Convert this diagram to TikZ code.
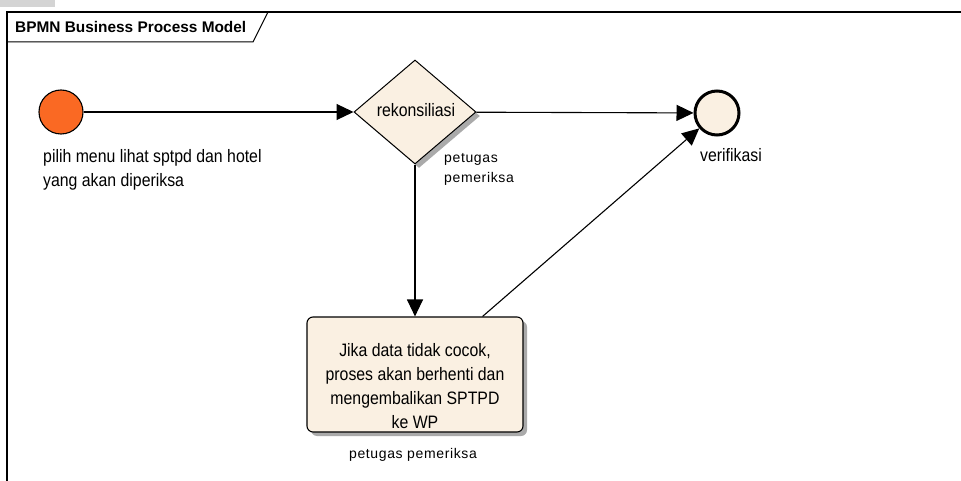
\documentclass[tikz,border=0pt]{standalone}
\usepackage{fontspec}
\setmainfont{Liberation Sans}
\newfontfamily\narrowsans[FakeStretch=0.88]{Liberation Sans}
\newfontfamily\spacedsans[LetterSpace=4.5]{Liberation Sans}
\usetikzlibrary{arrows.meta,shapes.geometric,shadows,calc}
\definecolor{startfill}{RGB}{250,105,35}
\definecolor{beige}{RGB}{250,240,226}
\definecolor{framegrey}{RGB}{212,212,212}
\definecolor{shadowgrey}{RGB}{170,170,170}
\tikzset{
  flow/.style={draw=black, line width=1.1pt, -{Triangle[length=17pt,width=16pt]}},
  bpshadow/.style={drop shadow={shadow xshift=4pt, shadow yshift=-4pt, fill=shadowgrey, opacity=1}},
  startevent/.style={circle, draw=black, line width=1.1pt, fill=startfill, minimum size=44pt, inner sep=0pt},
  endevent/.style={circle, draw=black, line width=3pt, fill=beige, minimum size=44pt, inner sep=0pt},
  gateway/.style={diamond, draw=black, line width=1pt, fill=beige, minimum width=122pt, minimum height=104pt, inner sep=0pt, bpshadow},
  taskbox/.style={rectangle, rounded corners=6pt, draw=black, line width=1.1pt, fill=beige, minimum width=216pt, minimum height=115pt, bpshadow},
  label16/.style={font=\narrowsans\fontsize{18}{24}\selectfont, inner sep=0pt},
  label14/.style={font=\spacedsans\fontsize{14}{20}\selectfont, inner sep=0pt},
}
\begin{document}
\begin{tikzpicture}[x=1pt,y=-1pt]
  \useasboundingbox (0,0) rectangle (961,481);
  \fill[white] (0,0) rectangle (961,481);
  % diagram frame with its title tab
  \fill[framegrey] (0,0) rectangle (55,7);
  \draw[line width=1.2pt] (961,12) -- (7,12) -- (7,481);
  \draw[line width=1pt] (7,42) -- (253,42) -- (268,12);
  \node[anchor=west, inner sep=0pt, font=\bfseries\fontsize{15.4}{17}\selectfont] (title) at (15,27) {BPMN Business Process Model};

  % events, gateway and task
  \node[startevent] (start) at (61,112) {};
  \node[gateway] (gate) at (415,112) {};
  \node[label16] (gatetext) at (416,110) {rekonsiliasi};
  \node[endevent] (endev) at (717,113) {};
  \node[taskbox] (task) at (415,374.5) {};
  \node[label16, align=center] (tasktext) at (415,386) {Jika data tidak cocok,\\proses akan berhenti dan\\mengembalikan SPTPD\\ke WP};
  \coordinate (taskout) at ($(task.north east)+(-41,0)$);

  % labels
  \node[label16, anchor=north west, align=left] (startlbl) at (43,149) {pilih menu lihat sptpd dan hotel\\yang akan diperiksa};
  \node[label14, anchor=north west, align=left] (gatelbl) at (444,153) {petugas\\pemeriksa};
  \node[label16, anchor=west] (endlbl) at (700,155) {verifikasi};
  \node[label14] (tasklbl) at (413,455) {petugas pemeriksa};

  % sequence flows
  \draw[flow] (start) -- (gate);
  \draw[flow] (gate) -- (endev);
  \draw[flow] (gate) -- (task);
  \draw[flow] (taskout) -- (endev);
\end{tikzpicture}
\end{document}
